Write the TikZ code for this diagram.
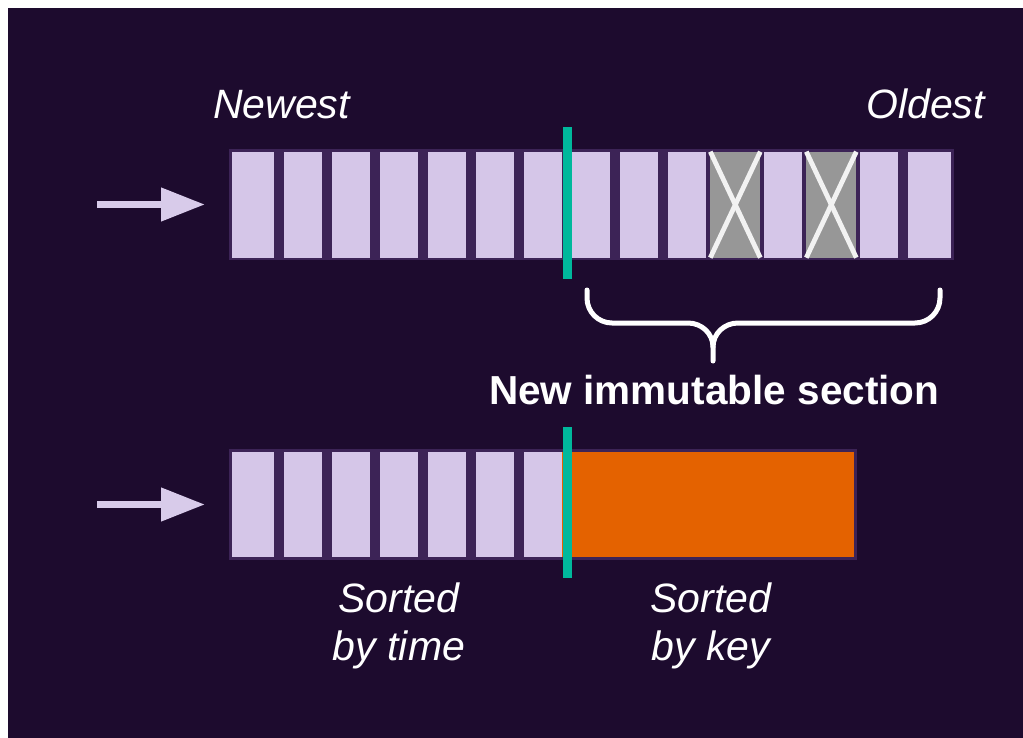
\documentclass[tikz,border=0pt]{standalone}
\usepackage{fontspec}
\setmainfont{Liberation Sans}
\usetikzlibrary{arrows.meta}
\definecolor{bgc}{HTML}{1D0B2E}
\definecolor{contc}{HTML}{3C2356}
\definecolor{lightc}{HTML}{D5C6E8}
\definecolor{grayc}{HTML}{979797}
\definecolor{tealc}{HTML}{00B89C}
\definecolor{orangec}{HTML}{E46200}
\definecolor{arrowc}{HTML}{D8CBEA}
\definecolor{xc}{HTML}{F2F2F2}
\tikzset{
  cell/.style={rectangle, fill=lightc, inner sep=0pt, outer sep=0pt, minimum width=38pt, minimum height=106pt},
  dead/.style={rectangle, fill=grayc, inner sep=0pt, outer sep=0pt, minimum width=50pt, minimum height=106pt},
  sorted/.style={rectangle, fill=orangec, inner sep=0pt, outer sep=0pt},
  divider/.style={draw=tealc, line width=9.6pt},
  feed/.style={draw=arrowc, line width=7.5pt, -{Triangle[length=44pt,width=32pt]}},
  cross/.style={draw=xc, line width=4.8pt},
  lbl/.style={text=white, inner sep=0pt, font=\fontsize{41}{48}\selectfont\itshape},
  head/.style={text=white, inner sep=0pt, font=\fontsize{40.5}{48}\selectfont\bfseries},
  bracec/.style={draw=white, line width=5pt, line cap=round, line join=round}
}
\begin{document}
\begin{tikzpicture}[x=1pt,y=-1pt]
\useasboundingbox (0,0) rectangle (1023,738);
\fill[white] (0,0) rectangle (1023,738);
\fill[bgc] (8,8) rectangle (1023,738);

% ---- top row ----
\fill[contc] (229,149) rectangle (954,260.5);
\node[cell, minimum width=42.6pt] (t0) at (253,204.7) {};
\foreach \i in {1,...,9,11,13} {
  \node[cell] (t\i) at ({303.3+48*(\i-1)},204.7) {};
}
\node[cell, minimum width=42.4pt] (t14) at (929.5,204.7) {};
\foreach \i in {10,12} {
  \node[dead] (t\i) at ({303.3+48*(\i-1)},204.7) {};
  \draw[cross] (t\i.north west) -- (t\i.south east);
  \draw[cross] (t\i.north east) -- (t\i.south west);
}
\draw[divider] (567.5,127.5) -- (567.5,278.5);

\coordinate (a1s) at (97,204.5);
\coordinate (a1e) at (205,204.5);
\draw[feed] (a1s) -- (a1e);

\node[lbl, anchor=base west] (newest) at (213,119) {Newest};
\node[lbl, anchor=base west] (oldest) at (866,119) {Oldest};

% brace
\draw[bracec] (587,290) -- (587,298) to[out=-90,in=180] (612,323) -- (688,323) to[out=0,in=90] (713,347) -- (713,361);
\draw[bracec] (940,290) -- (940,298) to[out=-90,in=0] (915,323) -- (738,323) to[out=180,in=90] (713,347);

\node[head, anchor=base west] (imm) at (489,404) {New immutable section};

% ---- bottom row ----
\fill[contc] (229,449) rectangle (857,560);
\node[cell, minimum width=42.6pt, minimum height=105.6pt] (b0) at (253,504.5) {};
\foreach \i in {1,...,6} {
  \node[cell, minimum height=105.6pt] (b\i) at ({303.3+48*(\i-1)},504.5) {};
}
\node[sorted, minimum width=292pt, minimum height=105.6pt] (ob) at (708.2,504.5) {};
\draw[divider] (567.5,427.3) -- (567.5,578.3);

\coordinate (a2s) at (97,504.5);
\coordinate (a2e) at (205,504.5);
\draw[feed] (a2s) -- (a2e);

\node[lbl, anchor=base] (st1) at (399,612) {Sorted};
\node[lbl, anchor=base] (st2) at (399,660) {by time};
\node[lbl, anchor=base] (sk1) at (711,612) {Sorted};
\node[lbl, anchor=base] (sk2) at (711,660) {by key};
\end{tikzpicture}
\end{document}
